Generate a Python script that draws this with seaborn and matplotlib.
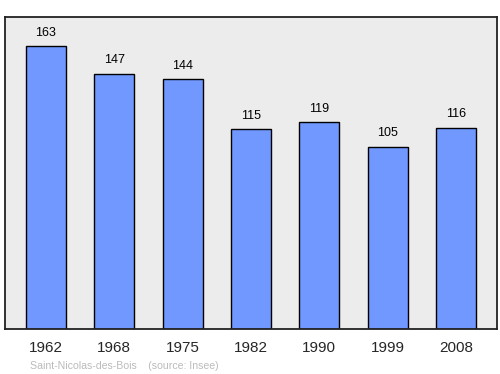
import matplotlib
matplotlib.use("Agg")
import matplotlib.pyplot as plt
import seaborn as sns
import pandas as pd

years = ["1962", "1968", "1975", "1982", "1990", "1999", "2008"]
population = [163, 147, 144, 115, 119, 105, 116]

sns.set_style("white")
plt.rcParams['font.family'] = ['Liberation Sans', 'DejaVu Sans']

df = pd.DataFrame({"year": years, "pop": population})

fig = plt.figure(figsize=(5, 3.74), dpi=100)
ax = fig.add_axes([0.01, 0.1203, 0.984, 0.8342])
ax.set_facecolor("#ececec")

sns.barplot(data=df, x="year", y="pop", color="#7098ff", saturation=1,
            width=0.585, edgecolor="black", linewidth=1.0, ax=ax)

for i, v in enumerate(population):
    ax.text(i, v + 4.3, str(v), ha="center", va="bottom", fontsize=9, color="black")

ax.set_xlim(-0.6, 6.6)
ax.set_ylim(0, 179.7)
ax.set_yticks([])
ax.set_xlabel("")
ax.set_ylabel("")
ax.tick_params(axis="x", length=0, labelsize=11, pad=8.5)
for s in ax.spines.values():
    s.set_color("#222222")
    s.set_linewidth(1.3)

fig.text(0.06, 0.008, "Saint-Nicolas-des-Bois    (source: Insee)", fontsize=7.6,
         color="#bbbbbb", ha="left", va="bottom")

fig.savefig("out.png", dpi=100)
